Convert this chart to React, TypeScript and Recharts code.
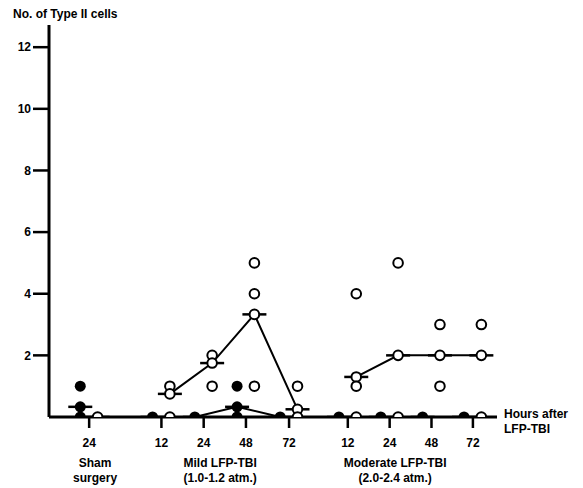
import React from 'react';
import { ComposedChart, XAxis, YAxis, Line, Scatter } from 'recharts';

const FONT = '"Liberation Sans", Arial, sans-serif';

// x positions of the time points along the axis (sham, mild x4, moderate x4)
const slots = [0.95, 2.66, 3.66, 4.66, 5.68, 7.07, 8.06, 9.05, 10.03];
const hourLabels = ['24', '12', '24', '48', '72', '12', '24', '48', '72'];

// individual animals, per time point
const openCells = [[0], [1, 0.75, 0], [2, 1.75, 1], [5, 4, 3.33, 1], [1, 0.25, 0], [4, 1.3, 1, 0], [5, 2, 0], [3, 2, 1], [3, 2, 0]];
const filledCells = [[1, 0.33, 0], [0], [0], [1, 0.33, 0], [0], [0], [0], [0], [0]];

// group means
const openMeans = [0, 0.75, 1.75, 3.33, 0.25, 1.3, 2, 2, 2];
const filledMeans = [0.33, 0, 0, 0.33, 0, 0, 0, 0, 0];

const groupSlots = [[0], [1, 2, 3, 4], [5, 6, 7, 8]];
const groupNames = [['Sham', 'surgery'], ['Mild LFP-TBI', '(1.0-1.2 atm.)'], ['Moderate LFP-TBI', '(2.0-2.4 atm.)']];
const groupLabelPos = [1.09, 4.05, 8.19];

const yTicks = [2, 4, 6, 8, 10, 12];

const OPEN_OFF = 0.2;
const FILLED_OFF = -0.21;

const toPoints = (cells: number[][], off: number) =>
  cells.flatMap((vals, i) => vals.map(v => ({ x: slots[i] + off, y: v })));

const meanLine = (means: number[], idx: number[], off: number) =>
  idx.map(i => ({ x: slots[i] + off, y: means[i] }));

const OpenDot = (p: any) => <circle cx={p.cx} cy={p.cy} r={4.8} fill="#fff" stroke="#000" strokeWidth={2} />;
const FilledDot = (p: any) => <circle cx={p.cx} cy={p.cy} r={5.5} fill="#000" />;
const MeanDash = (p: any) => (
  <line key={`d${p.index}-${p.cx}`} x1={p.cx - 12} x2={p.cx + 12} y1={p.cy} y2={p.cy} stroke="#000" strokeWidth={2.5} />
);

const GroupTick = (p: any) => {
  const idx = groupLabelPos.indexOf(p.payload.value);
  const lines = groupNames[idx] || [];
  return (
    <g>
      {lines.map((t, k) => (
        <text key={k} x={p.x} y={p.y} dy={20 + k * 15} textAnchor="middle" fontFamily={FONT} fontWeight="bold" fontSize={12} fill="#000">
          {t}
        </text>
      ))}
    </g>
  );
};

export default function App() {
  const tickStyle = { fontFamily: FONT, fontWeight: 'bold', fontSize: 12, fill: '#000' };
  return (
    <div style={{ position: 'absolute', left: 0, top: 0, background: '#fff' }}>
      <ComposedChart width={583} height={488} margin={{ top: 25, right: 86, bottom: 0, left: 0 }}>
        <XAxis
          type="number"
          dataKey="x"
          domain={[0, 10.6]}
          ticks={slots}
          interval={0}
          tickFormatter={(v: number) => hourLabels[slots.indexOf(v)] ?? ''}
          tick={tickStyle}
          tickSize={11}
          tickMargin={10}
          height={30}
          axisLine={{ stroke: '#000', strokeWidth: 3 }}
          tickLine={{ stroke: '#000', strokeWidth: 2.5 }}
          allowDataOverflow
          label={{
            content: (lp: any) => {
              const vb = lp.viewBox;
              return (
                <g>
                  <text x={vb.x + vb.width + 7} y={vb.y + 1} fontFamily={FONT} fontWeight="bold" fontSize={12} fill="#000">Hours after</text>
                  <text x={vb.x + vb.width + 7} y={vb.y + 16} fontFamily={FONT} fontWeight="bold" fontSize={12} fill="#000">LFP-TBI</text>
                </g>
              );
            },
          }}
        />
        <XAxis
          xAxisId="grp"
          type="number"
          dataKey="x"
          domain={[0, 10.6]}
          ticks={groupLabelPos}
          interval={0}
          height={41}
          axisLine={false}
          tickLine={false}
          tickSize={0}
          tickMargin={0}
          tick={<GroupTick />}
          allowDataOverflow
        />
        <YAxis
          type="number"
          domain={[0, 12.72]}
          ticks={yTicks}
          interval={0}
          width={49}
          tick={tickStyle}
          tickSize={16}
          tickMargin={2}
          axisLine={{ stroke: '#000', strokeWidth: 3 }}
          tickLine={{ stroke: '#000', strokeWidth: 2.5 }}
          allowDataOverflow
          label={{
            content: (lp: any) => (
              <text x={13} y={lp.viewBox.y - 7} fontFamily={FONT} fontWeight="bold" fontSize={12} fill="#000">
                No. of Type II cells
              </text>
            ),
          }}
        />
        {groupSlots.map((idx, g) => (
          <Line
            key={`fm${g}`}
            data={meanLine(filledMeans, idx, FILLED_OFF)}
            dataKey="y"
            type="linear"
            stroke="#000"
            strokeWidth={2}
            dot={MeanDash}
            activeDot={false}
            isAnimationActive={false}
          />
        ))}
        {groupSlots.map((idx, g) => (
          <Line
            key={`om${g}`}
            data={meanLine(openMeans, idx, OPEN_OFF)}
            dataKey="y"
            type="linear"
            stroke="#000"
            strokeWidth={2}
            dot={MeanDash}
            activeDot={false}
            isAnimationActive={false}
          />
        ))}
        <Scatter data={toPoints(filledCells, FILLED_OFF)} dataKey="y" shape={FilledDot} isAnimationActive={false} />
        <Scatter data={toPoints(openCells, OPEN_OFF)} dataKey="y" shape={OpenDot} isAnimationActive={false} />
      </ComposedChart>
    </div>
  );
}
